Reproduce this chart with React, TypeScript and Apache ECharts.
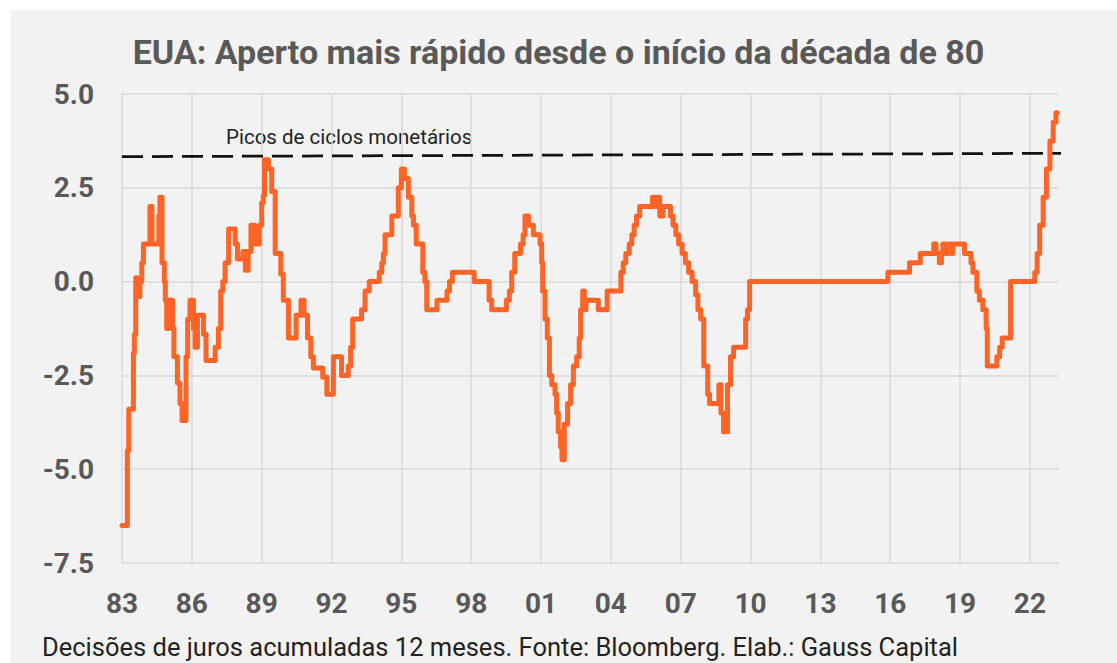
import React, { useEffect, useRef } from "react";
import * as echarts from "echarts";

// Time (decimal year) at which the 12‑month cumulative change takes a new value
const changeYears = [
  1983.0, 1983.23, 1983.29, 1983.49, 1983.53, 1983.59, 1983.66, 1983.77, 1983.85, 1983.92,
  1984.2, 1984.29, 1984.58, 1984.63, 1984.72, 1984.82, 1984.86, 1984.92, 1985.01, 1985.18,
  1985.23, 1985.38, 1985.49, 1985.58, 1985.75, 1985.82, 1985.92, 1986.07, 1986.14, 1986.24,
  1986.5, 1986.61, 1987.0, 1987.14, 1987.24, 1987.33, 1987.43, 1987.58, 1987.86, 1987.96,
  1988.19, 1988.3, 1988.42, 1988.54, 1988.7, 1988.9, 1989.0, 1989.07, 1989.12, 1989.29,
  1989.43, 1989.58, 1989.82, 1989.93, 1990.15, 1990.48, 1990.69, 1990.82, 1990.97, 1991.11,
  1991.22, 1991.62, 1991.8, 1992.08, 1992.43, 1992.72, 1992.82, 1992.91, 1993.29, 1993.44,
  1993.62, 1994.05, 1994.16, 1994.23, 1994.3, 1994.59, 1994.87, 1995.0, 1995.13, 1995.3,
  1995.45, 1995.52, 1995.64, 1995.92, 1996.01, 1996.09, 1996.53, 1996.96, 1997.07, 1997.19,
  1998.13, 1998.77, 1998.88, 1999.51, 1999.64, 1999.74, 1999.87, 2000.12, 2000.23, 2000.31,
  2000.46, 2000.67, 2000.96, 2001.03, 2001.07, 2001.17, 2001.27, 2001.36, 2001.46, 2001.6,
  2001.67, 2001.74, 2001.84, 2001.9, 2002.0, 2002.14, 2002.27, 2002.39, 2002.53, 2002.64,
  2002.7, 2002.79, 2002.86, 2002.93, 2003.46, 2003.84, 2004.43, 2004.53, 2004.64, 2004.79,
  2004.9, 2005.0, 2005.1, 2005.24, 2005.79, 2005.89, 2005.99, 2006.1, 2006.24, 2006.56,
  2006.67, 2006.79, 2006.91, 2007.06, 2007.2, 2007.34, 2007.49, 2007.64, 2007.74, 2007.86,
  2007.99, 2008.16, 2008.24, 2008.64, 2008.73, 2008.84, 2009.01, 2009.14, 2009.27, 2009.79,
  2009.87, 2009.96, 2015.9, 2016.83, 2017.29, 2017.87, 2017.97, 2018.11, 2018.2, 2018.26,
  2018.34, 2018.46, 2018.61, 2018.69, 2019.19, 2019.47, 2019.55, 2019.72, 2019.83, 2019.98,
  2020.12, 2020.17, 2020.58, 2020.7, 2020.81, 2021.17, 2022.21, 2022.31, 2022.42, 2022.57,
  2022.71, 2022.86, 2023.0, 2023.12, 2023.17,
];

// 12‑month cumulative rate decisions (p.p.)
const cumulativeChange = [
  -6.5, -4.5, -3.4, -1.9, -1.4, 0.1, -0.4, 0.0, 0.5, 1.0,
  2.0, 1.0, 1.75, 2.25, 0.5, 0.0, -0.5, -1.25, -0.5, -1.25,
  -2.0, -2.7, -3.25, -3.7, -2.0, -1.0, -0.5, -1.25, -1.75, -0.9,
  -1.4, -2.1, -1.75, -1.25, -0.25, 0.0, 0.5, 1.4, 1.0, 0.6,
  0.8, 0.3, 0.8, 1.5, 1.0, 1.5, 2.1, 2.3, 3.25, 3.0,
  2.4, 0.75, 0.2, -0.5, -1.5, -0.9, -0.5, -0.9, -1.5, -2.0,
  -2.3, -2.55, -3.0, -2.0, -2.5, -2.25, -1.75, -1.0, -0.75, -0.25,
  0.0, 0.25, 0.5, 0.75, 1.25, 1.75, 2.5, 3.0, 2.75, 2.25,
  1.75, 1.5, 1.0, 0.25, 0.0, -0.75, -0.5, -0.25, 0.0, 0.25,
  0.0, -0.5, -0.75, -0.5, -0.25, 0.25, 0.75, 1.0, 1.25, 1.75,
  1.5, 1.25, 1.0, 0.5, -0.25, -1.0, -1.5, -2.5, -2.75, -3.0,
  -3.5, -4.0, -4.4, -4.75, -3.8, -3.25, -2.75, -2.25, -2.0, -1.5,
  -0.75, -0.25, -0.75, -0.5, -0.75, -0.25, 0.25, 0.5, 0.75, 1.0,
  1.25, 1.5, 1.75, 2.0, 2.25, 2.0, 2.25, 1.75, 2.0, 1.75,
  1.5, 1.25, 1.0, 0.75, 0.5, 0.25, 0.0, -0.35, -0.75, -1.0,
  -2.25, -3.0, -3.25, -2.75, -3.5, -4.0, -2.75, -2.0, -1.75, -1.0,
  -0.75, 0.0, 0.25, 0.5, 0.75, 1.0, 0.75, 0.5, 0.75, 1.0,
  0.75, 1.0, 0.75, 1.0, 0.75, 0.5, 0.25, -0.25, -0.5, -0.75,
  -1.25, -2.25, -2.0, -1.75, -1.5, 0.0, 0.25, 0.75, 1.5, 2.25,
  3.0, 3.75, 4.25, 4.5, 4.5,
];

// "Picos de ciclos monetários" reference line
const peakLineYears = [1983, 2023.45];
const peakLineValues = [3.33, 3.42];

const xMin = 1983;
const xMax = 2023.25;
const xInterval = 3;
const yMin = -7.5;
const yMax = 5;
const yInterval = 2.5;

const TITLE = "EUA: Aperto mais rápido desde o início da década de 80";
const PEAK_LABEL = "Picos de ciclos monetários";
const FOOTER = "Decisões de juros acumuladas 12 meses. Fonte: Bloomberg. Elab.: Gauss Capital";

export default function App() {
  const ref = useRef<HTMLDivElement>(null);

  useEffect(() => {
    if (!ref.current) return;
    const chart = echarts.init(ref.current, undefined, { renderer: "svg" });
    const lineData = changeYears.map((t, i) => [t, cumulativeChange[i]]);
    const peakData = peakLineYears.map((t, i) => [t, peakLineValues[i]]);
    const labelColor = "#595959";
    chart.setOption({
      animation: false,
      backgroundColor: "#ffffff",
      title: {
        text: TITLE,
        left: "center",
        top: 30,
        textStyle: {
          fontFamily: "Roboto",
          fontWeight: "bold",
          fontSize: 34,
          color: labelColor,
        },
      },
      graphic: [
        {
          type: "rect",
          z: -10,
          silent: true,
          shape: { x: 11, y: 10, width: 1106, height: 653 },
          style: { fill: "#f2f2f2" },
        },
        {
          type: "text",
          x: 226,
          y: 137,
          style: {
            text: PEAK_LABEL,
            fontFamily: "Roboto",
            fontSize: 20.5,
            fill: "#222222",
            verticalAlign: "middle",
          },
        },
        {
          type: "text",
          x: 42,
          y: 647,
          style: {
            text: FOOTER,
            fontFamily: "Roboto",
            fontSize: 25.5,
            fill: "#222222",
            verticalAlign: "middle",
          },
        },
      ],
      grid: {
        left: 122,
        top: 94,
        right: 58,
        bottom: 100,
        containLabel: false,
        outerBoundsMode: "none",
      },
      xAxis: {
        type: "value",
        min: xMin,
        max: xMax,
        interval: xInterval,
        axisLine: { show: false },
        axisTick: { show: false },
        axisLabel: {
          showMaxLabel: false,
          margin: 26,
          fontFamily: "Roboto",
          fontWeight: "bold",
          fontSize: 28,
          color: labelColor,
          formatter: (v: number) => String(Math.round(v) % 100).padStart(2, "0"),
        },
        splitLine: {
          show: true,
          showMaxLine: false,
          lineStyle: { color: "#d9d9d9", width: 1.5 },
        },
      },
      yAxis: {
        type: "value",
        min: yMin,
        max: yMax,
        interval: yInterval,
        axisLine: { show: false },
        axisTick: { show: false },
        axisLabel: {
          margin: 28,
          fontFamily: "Roboto",
          fontWeight: "bold",
          fontSize: 28,
          color: labelColor,
          formatter: (v: number) => v.toFixed(1),
        },
        splitLine: {
          show: true,
          lineStyle: { color: "#d9d9d9", width: 1.5 },
        },
      },
      series: [
        {
          type: "line",
          name: PEAK_LABEL,
          data: peakData,
          clip: false,
          symbol: "none",
          silent: true,
          z: 1,
          lineStyle: { color: "#111111", width: 2.75, type: [21, 9] },
        },
        {
          type: "line",
          name: "Juros 12m",
          data: lineData,
          step: "end",
          symbol: "none",
          silent: true,
          z: 2,
          lineStyle: { color: "#ff6326", width: 5, cap: "round", join: "round" },
        },
      ],
    });
    return () => chart.dispose();
  }, []);

  return (
    <div
      ref={ref}
      style={{ position: "fixed", left: 0, top: 0, width: 1117, height: 663 }}
    />
  );
}
